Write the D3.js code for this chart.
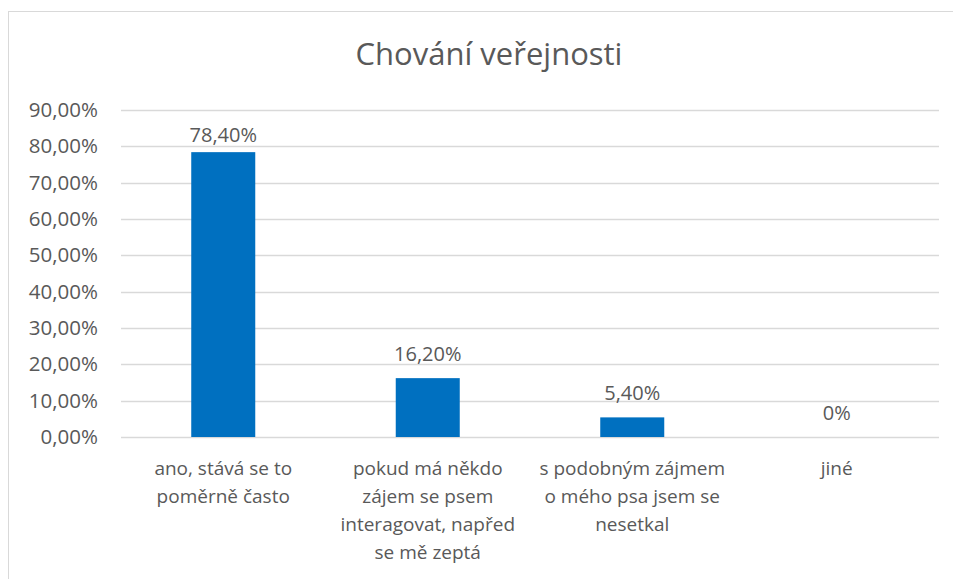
<!DOCTYPE html>
<html>
<head>
<meta charset="utf-8">
<script src="https://cdn.jsdelivr.net/npm/d3@7"></script>
<style>
  body { margin: 0; background: #fff; }
  text { font-family: "Open Sans", sans-serif; fill: #595959; }
</style>
</head>
<body>
<div id="chart"></div>
<script>
// chart values
var title = "Chování veřejnosti";
var categories = [
  ["ano, stává se to", "poměrně často"],
  ["pokud má někdo", "zájem se psem", "interagovat, napřed", "se mě zeptá"],
  ["s podobným zájmem", "o mého psa jsem se", "nesetkal"],
  ["jiné"]
];
var values = [78.4, 16.2, 5.4, 0];
var valueLabels = ["78,40%", "16,20%", "5,40%", "0%"];
var yTicks = [0, 10, 20, 30, 40, 50, 60, 70, 80, 90];

var W = 953, H = 579;
var plot = {left: 121, right: 939, top: 110, bottom: 437};

var svg = d3.select("#chart").append("svg")
    .attr("width", W)
    .attr("height", H);

// outer chart border (runs off the right and bottom edges)
svg.append("rect")
    .attr("x", 8.5).attr("y", 11.5)
    .attr("width", 1000).attr("height", 1000)
    .attr("fill", "#fff")
    .attr("stroke", "#d9d9d9");

svg.append("text")
    .attr("x", 489).attr("y", 65)
    .attr("text-anchor", "middle")
    .style("font-size", "31px")
    .text(title);

var x = d3.scaleBand()
    .domain(d3.range(categories.length))
    .range([plot.left, plot.right])
    .paddingInner(0.687)
    .paddingOuter(0.3435);

var y = d3.scaleLinear()
    .domain([0, 90])
    .range([plot.bottom, plot.top]);

// gridlines
svg.append("g")
  .selectAll("line")
  .data(yTicks)
  .join("line")
    .attr("x1", plot.left).attr("x2", plot.right)
    .attr("y1", function(d) { return Math.round(y(d)) + 0.5; })
    .attr("y2", function(d) { return Math.round(y(d)) + 0.5; })
    .attr("stroke", "#d9d9d9")
    .attr("stroke-width", 1.3);

// y axis labels
var yAxis = d3.axisLeft(y)
    .tickValues(yTicks)
    .tickSize(0)
    .tickPadding(0)
    .tickFormat(function(d) { return d3.format(".2f")(d).replace(".", ",") + "%"; });

var gy = svg.append("g")
    .attr("transform", "translate(98,0)")
    .call(yAxis);
gy.select(".domain").remove();
gy.selectAll("text")
    .style("font-size", "20.5px")
    .style("font-family", "'Open Sans', sans-serif")
    .attr("fill", "#595959");

// bars
svg.append("g")
  .selectAll("rect")
  .data(values)
  .join("rect")
    .attr("x", function(d, i) { return x(i); })
    .attr("y", function(d) { return y(d); })
    .attr("width", x.bandwidth())
    .attr("height", function(d) { return y(0) - y(d); })
    .attr("fill", "#0070c0");

// value labels
svg.append("g")
  .selectAll("text")
  .data(values)
  .join("text")
    .attr("x", function(d, i) { return x(i) + x.bandwidth() / 2; })
    .attr("y", function(d) { return Math.max(y(d) - 17, y(90) + 32); })
    .attr("text-anchor", "middle")
    .style("font-size", "20px")
    .text(function(d, i) { return valueLabels[i]; });

// category labels
var cat = svg.append("g")
  .selectAll("text")
  .data(categories)
  .join("text")
    .attr("text-anchor", "middle")
    .style("font-size", "19px");

cat.selectAll("tspan")
  .data(function(d, i) { return d.map(function(t) { return {t: t, i: i}; }); })
  .join("tspan")
    .attr("x", function(d) { return x(d.i) + x.bandwidth() / 2; })
    .attr("y", function(d, j) { return 475 + j * 28; })
    .text(function(d) { return d.t; });
</script>
</body>
</html>
